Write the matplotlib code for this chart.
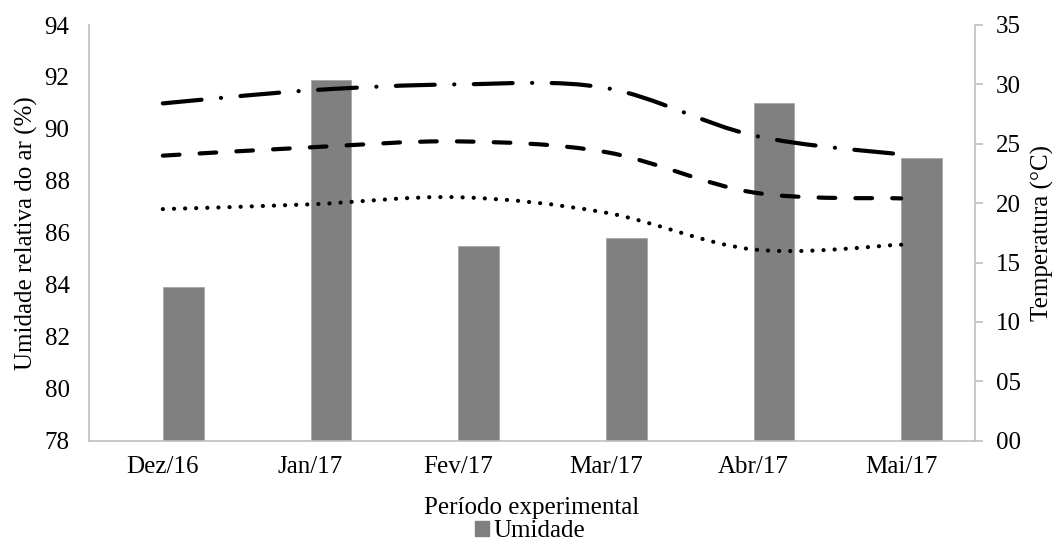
import numpy as np
import matplotlib
matplotlib.use('Agg')
from matplotlib import pyplot as plt
from matplotlib.path import Path
from matplotlib.patches import PathPatch, Patch

meses = ['Dez/16', 'Jan/17', 'Fev/17', 'Mar/17', 'Abr/17', 'Mai/17']
umidade = [83.9, 91.9, 85.5, 85.8, 91.0, 88.9]
temp_max = [28.4, 29.5, 30.0, 29.7, 25.7, 24.1]
temp_med = [24.0, 24.7, 25.2, 24.3, 20.9, 20.4]
temp_min = [19.5, 19.9, 20.5, 19.2, 16.1, 16.5]

plt.rcParams['font.family'] = ['Liberation Serif', 'DejaVu Serif']
plt.rcParams['font.size'] = 18
plt.rcParams['lines.scale_dashes'] = False

CINZA = '#bfbfbf'


def curva_suave(x, y):
    # linha suavizada (bezier passando pelos pontos, estilo Excel)
    pts = np.column_stack([x, y]).astype(float)
    n = len(pts)
    verts = [pts[0]]
    codes = [Path.MOVETO]
    for i in range(n - 1):
        p0 = pts[max(i - 1, 0)]
        p1 = pts[i]
        p2 = pts[i + 1]
        p3 = pts[min(i + 2, n - 1)]
        verts += [p1 + (p2 - p0) / 6, p2 - (p3 - p1) / 6, p2]
        codes += [Path.CURVE4] * 3
    return Path(verts, codes)


fig = plt.figure(figsize=(10.57, 5.43), dpi=100)
ax = fig.add_axes([89 / 1057, 1 - 440.7 / 543, (975 - 89) / 1057, (440.7 - 25) / 543])
x = np.arange(len(meses))

ax.bar(x, umidade, width=0.276, align='edge', color='#808080',
       edgecolor='#a6a6a6', linewidth=0.6, zorder=2)
ax.set_ylim(78, 94)
ax.set_yticks(range(78, 95, 2))
ax.set_xlim(-0.5, len(meses) - 0.5)
ax.set_xticks(x)
ax.set_xticklabels(meses)
ax.tick_params(axis='both', length=0)
ax.tick_params(axis='x', pad=11)
ax.tick_params(axis='y', pad=14)
for lado in ['top', 'right']:
    ax.spines[lado].set_visible(False)
for lado in ['left', 'bottom']:
    ax.spines[lado].set_color(CINZA)
    ax.spines[lado].set_linewidth(1.2)
ax.set_ylabel('Umidade relativa do ar (%)', labelpad=5)
ax.set_xlabel('Período experimental', labelpad=14)

ax2 = ax.twinx()
ax2.set_ylim(0, 35)
ax2.set_yticks(range(0, 36, 5))
ax2.set_yticklabels(['%02d' % v for v in range(0, 36, 5)])
ax2.tick_params(axis='y', length=6, width=1.2, color=CINZA, pad=9)
for lado in ['top', 'left', 'bottom']:
    ax2.spines[lado].set_visible(False)
ax2.spines['right'].set_color(CINZA)
ax2.spines['right'].set_linewidth(1.2)
ax2.set_ylabel('Temperatura (°C)', labelpad=7)

estilos = [
    (temp_max, (0, (28.0, 14.0, 0.1, 14.0))),
    (temp_med, (0, (12.0, 14.5))),
    (temp_min, (0, (0.1, 7.9))),
]
for serie, ls in estilos:
    patch = PathPatch(curva_suave(x, serie), fill=False, edgecolor='black',
                      linewidth=3.0, linestyle=ls, capstyle='round', zorder=3)
    ax2.add_patch(patch)

fig.legend(handles=[Patch(color='#808080', label='Umidade')],
           loc='center', bbox_to_anchor=(530 / 1057, 1 - 531 / 543),
           frameon=False, handlelength=0.55, handleheight=0.55,
           handletextpad=0.2, borderpad=0)

fig.savefig('out.png', dpi=100)
